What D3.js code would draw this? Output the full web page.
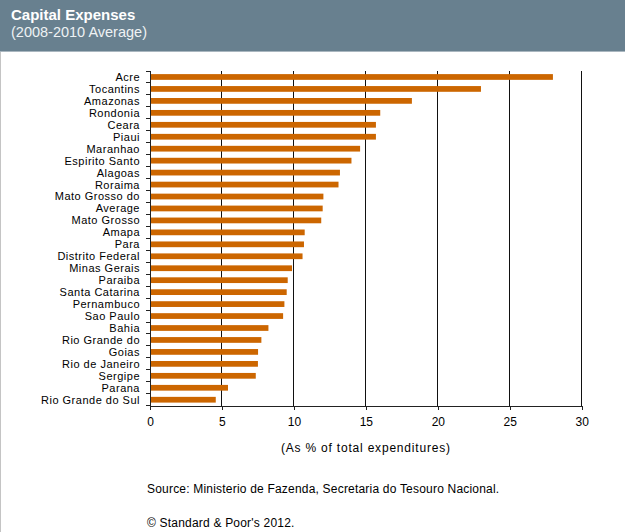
<!DOCTYPE html>
<html>
<head>
<meta charset="utf-8">
<script src="https://cdn.jsdelivr.net/npm/d3@7/dist/d3.min.js"></script>
<style>
  html, body { margin: 0; padding: 0; background: #ffffff; }
  svg { display: block; }
</style>
</head>
<body>
<svg id="chart" width="625" height="532"></svg>
<script>
const categories = ["Acre","Tocantins","Amazonas","Rondonia","Ceara","Piaui","Maranhao","Espirito Santo","Alagoas","Roraima","Mato Grosso do","Average","Mato Grosso","Amapa","Para","Distrito Federal","Minas Gerais","Paraiba","Santa Catarina","Pernambuco","Sao Paulo","Bahia","Rio Grande do","Goias","Rio de Janeiro","Sergipe","Parana","Rio Grande do Sul"];
const values = [28.0,23.0,18.2,16.0,15.7,15.7,14.6,14.0,13.2,13.1,12.05,12.0,11.9,10.75,10.7,10.6,9.87,9.57,9.5,9.34,9.25,8.23,7.74,7.51,7.5,7.35,5.42,4.57];
const xTicks = [0,5,10,15,20,25,30];
const title = "Capital Expenses";
const subtitle = "(2008-2010 Average)";
const xAxisTitle = "(As % of total expenditures)";
const sourceText = "Source: Ministerio de Fazenda, Secretaria do Tesouro Nacional.";
const copyrightText = "\u00A9 Standard & Poor's 2012.";

(function(){
const svg = d3.select("#chart");
const W = 625, H = 532;
const font = "Arial, 'Liberation Sans', sans-serif";
const narrow = "'Liberation Sans Narrow', 'Arial Narrow', Arial, 'Liberation Sans', sans-serif";

svg.append("rect").attr("x",0).attr("y",0).attr("width",W).attr("height",H).attr("fill","#ffffff");
svg.append("rect").attr("x",0).attr("y",0).attr("width",W).attr("height",51).attr("fill","#68808f");
svg.append("rect").attr("x",0).attr("y",51).attr("width",W).attr("height",1).attr("fill","#a9b6bf");
svg.append("rect").attr("x",0).attr("y",52).attr("width",1).attr("height",H-52).attr("fill","#c4c4c4");

svg.append("text").attr("x",11).attr("y",20).text(title)
  .attr("font-family",narrow).attr("font-weight","bold").attr("font-size",15).attr("fill","#ffffff");
svg.append("text").attr("x",11).attr("y",37).text(subtitle)
  .attr("font-family",narrow).attr("font-size",14.5).attr("fill","#eef2f4");

const pL = 150, pR = 581.7, pT = 71, pB = 405.7;
const x = d3.scaleLinear().domain([0,30]).range([pL,pR]);
const y = d3.scaleBand().domain(categories).range([pT,pB]).paddingInner(0.52).paddingOuter(0.26);

svg.append("g").selectAll("line").data(xTicks.filter(d=>d>0)).join("line")
  .attr("x1",d=>x(d)).attr("x2",d=>x(d)).attr("y1",pT).attr("y2",pB)
  .attr("stroke","#111").attr("stroke-width",1).attr("shape-rendering","crispEdges");

svg.append("g").selectAll("rect").data(categories).join("rect")
  .attr("x",x(0)).attr("y",d=>y(d))
  .attr("width",(d,i)=>x(values[i])-x(0)).attr("height",y.bandwidth())
  .attr("fill","#cc6600");

const yAxisG = svg.append("g").attr("transform",`translate(${pL},0)`);
yAxisG.append("line").attr("x1",0).attr("x2",0).attr("y1",pT).attr("y2",pB)
  .attr("stroke","#222").attr("shape-rendering","crispEdges");
const step = (pB-pT)/categories.length;
yAxisG.selectAll("line.tk").data(d3.range(categories.length+1)).join("line").attr("class","tk")
  .attr("x1",-4).attr("x2",0).attr("y1",i=>pT+i*step).attr("y2",i=>pT+i*step)
  .attr("stroke","#222").attr("shape-rendering","crispEdges");
yAxisG.selectAll("text").data(categories).join("text")
  .attr("x",-10).attr("y",d=>y(d)+y.bandwidth()/2).attr("dy","0.36em")
  .attr("text-anchor","end").attr("font-family",font).attr("font-size",11)
  .attr("letter-spacing","0.5px").attr("fill","#000")
  .text(d=>d);

const xAxis = d3.axisBottom(x).tickValues(xTicks).tickSize(4).tickPadding(8).tickFormat(d3.format("d"));
const xg = svg.append("g").attr("transform",`translate(0,${pB})`).call(xAxis);
xg.select(".domain").attr("stroke","#222").attr("shape-rendering","crispEdges");
xg.selectAll(".tick line").attr("stroke","#222").attr("shape-rendering","crispEdges");
xg.selectAll(".tick text").attr("font-family",font).attr("font-size",12).attr("fill","#000");

svg.append("text").attr("x",(pL+pR)/2).attr("y",451.5).attr("text-anchor","middle")
  .attr("font-family",font).attr("font-size",12).attr("letter-spacing","0.8px").attr("fill","#000").text(xAxisTitle);

svg.append("text").attr("x",147).attr("y",492.5).attr("font-family",font).attr("font-size",12)
  .attr("letter-spacing","0.2px").attr("fill","#000").text(sourceText);
svg.append("text").attr("x",147).attr("y",526.5).attr("font-family",font).attr("font-size",12)
  .attr("letter-spacing","0.2px").attr("fill","#000").text(copyrightText);
})();
</script>
</body>
</html>
